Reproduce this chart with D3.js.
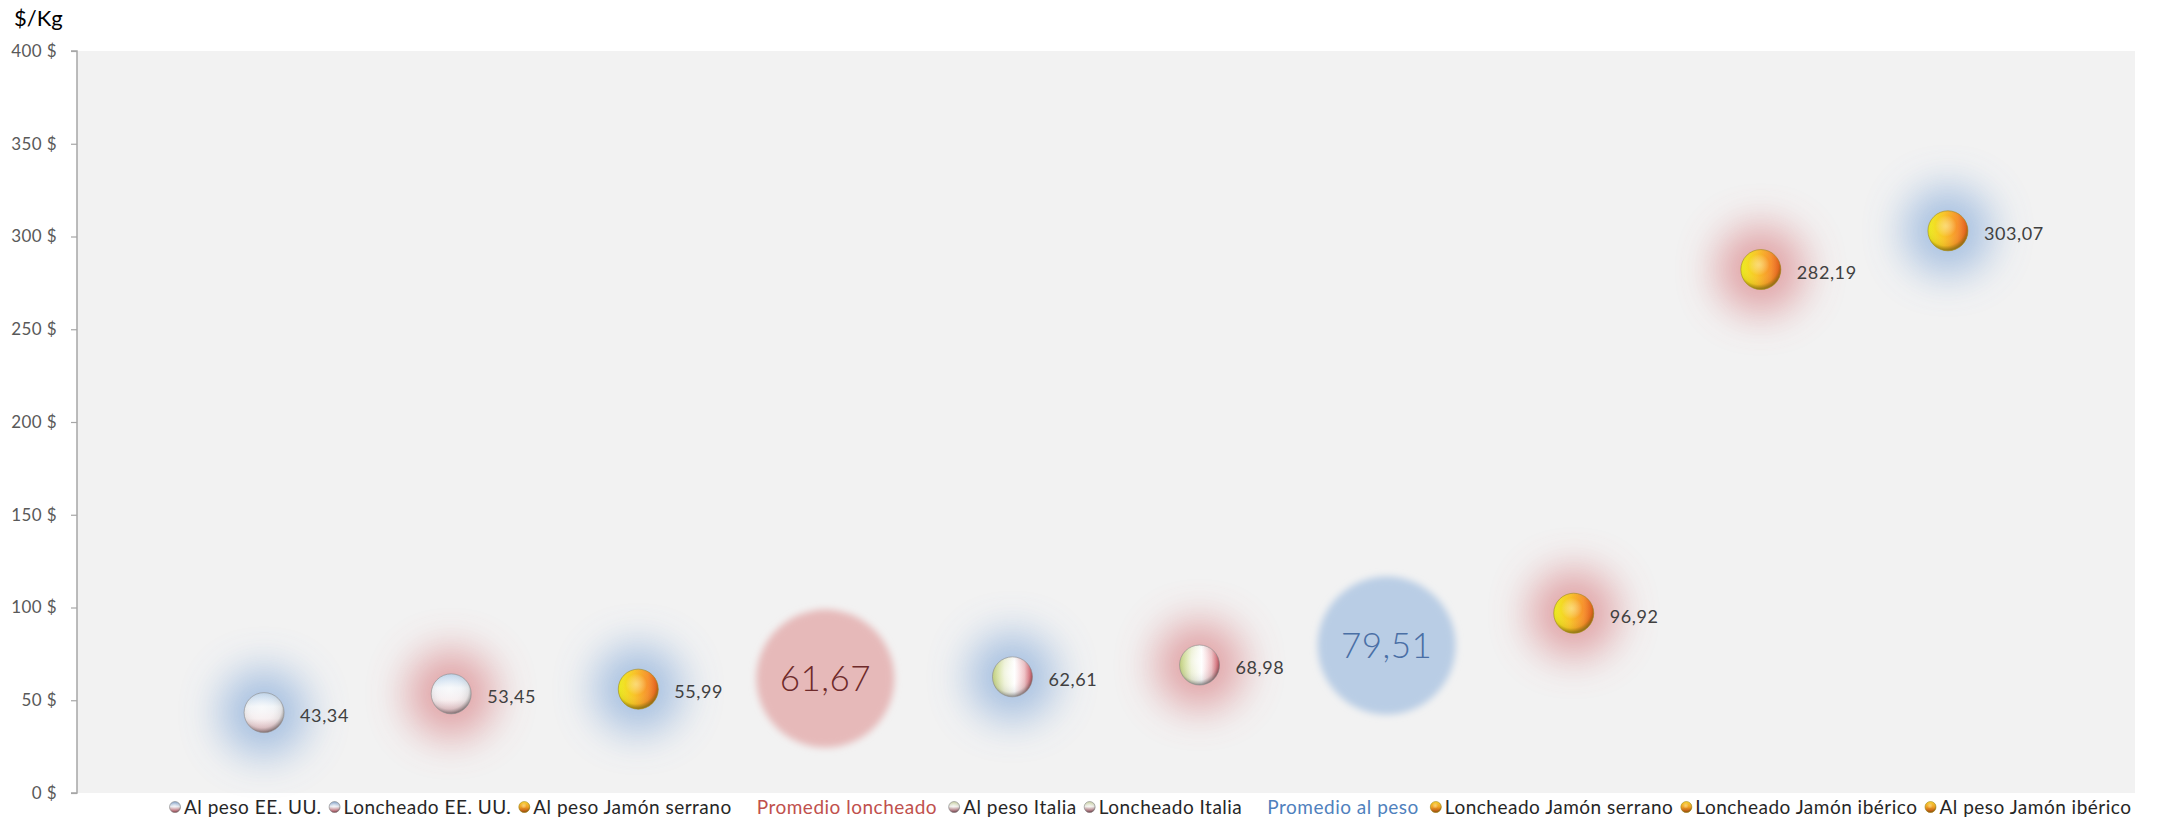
<!DOCTYPE html>
<html>
<head>
<meta charset="utf-8">
<script src="https://cdn.jsdelivr.net/npm/d3@7"></script>
<style>
  html, body { margin: 0; padding: 0; background: #ffffff; }
  svg { display: block; font-family: Lato, "Open Sans", sans-serif; }
</style>
</head>
<body>
<svg id="chart" width="2163" height="820"></svg>
<script>
// Price per kilo of ham, by origin and presentation
const seriesNames = [
  "Al peso EE. UU.", "Loncheado EE. UU.", "Al peso Jamón serrano", "Promedio loncheado",
  "Al peso Italia", "Loncheado Italia", "Promedio al peso", "Loncheado Jamón serrano",
  "Loncheado Jamón ibérico", "Al peso Jamón ibérico"
];
const seriesValues = [43.34, 53.45, 55.99, 61.67, 62.61, 68.98, 79.51, 96.92, 282.19, 303.07];
// origin of each series: us / es / it, or avg for the averages
const seriesOrigin = ["us", "us", "es", "avg", "it", "it", "avg", "es", "es", "es"];
// presentation: weight = "al peso", sliced = "loncheado"
const seriesFormat = ["weight", "sliced", "weight", "sliced", "weight", "sliced", "weight", "sliced", "sliced", "weight"];
const yTicks = [0, 50, 100, 150, 200, 250, 300, 350, 400];
const yTitle = "$/Kg";

const W = 2163, H = 820;
const margin = { left: 77, right: 28, top: 51, bottom: 27 };
const svg = d3.select("#chart");

const x = d3.scaleLinear().domain([0, seriesValues.length + 1]).range([margin.left, W - margin.right]);
const y = d3.scaleLinear().domain([0, 400]).range([H - margin.bottom, margin.top]);

const fmt = v => d3.format(".2f")(v).replace(".", ",");

const defs = svg.append("defs");

// glow / soft-edge filters
defs.append("filter").attr("id", "glow").attr("x", "-150%").attr("y", "-150%").attr("width", "400%").attr("height", "400%")
  .append("feGaussianBlur").attr("stdDeviation", 20);
defs.append("filter").attr("id", "soft").attr("x", "-30%").attr("y", "-30%").attr("width", "160%").attr("height", "160%")
  .append("feGaussianBlur").attr("stdDeviation", 3.5);

function linear(id, horizontal, stops) {
  const g = defs.append("linearGradient").attr("id", id)
    .attr("x1", 0).attr("y1", 0).attr("x2", horizontal ? 1 : 0).attr("y2", horizontal ? 0 : 1);
  stops.forEach(([o, c]) => g.append("stop").attr("offset", o).attr("stop-color", c));
}
linear("base-us", false, [["0%", "#c2d8ee"], ["35%", "#f2f5f8"], ["65%", "#f7eff0"], ["100%", "#e4b8bd"]]);
linear("base-it", true, [["0%", "#c7d77e"], ["30%", "#eef2d8"], ["55%", "#ffffff"], ["80%", "#f3c4c8"], ["100%", "#dd5866"]]);
linear("base-es", true, [["0%", "#eef01e"], ["40%", "#f8c428"], ["75%", "#f7902c"], ["100%", "#ea5a20"]]);
// small legend icons: darker, more saturated versions
linear("icon-us", false, [["0%", "#7f9fc8"], ["45%", "#e8ecf2"], ["60%", "#e0c4c8"], ["100%", "#b04050"]]);
linear("icon-it", false, [["0%", "#c8d0a0"], ["45%", "#f0f0ea"], ["60%", "#d8c0c0"], ["100%", "#904050"]]);
linear("icon-es", false, [["0%", "#f8d030"], ["50%", "#f0a020"], ["100%", "#b04010"]]);

// spherical shading on top of the base colours
const shade = defs.append("radialGradient").attr("id", "shade").attr("cx", "45%").attr("cy", "40%").attr("r", "60%");
[["0%", "#ffffff", 0.45], ["45%", "#ffffff", 0.05], ["80%", "#606060", 0.12], ["100%", "#303030", 0.55]]
  .forEach(([o, c, a]) => shade.append("stop").attr("offset", o).attr("stop-color", c).attr("stop-opacity", a));
const shadeEs = defs.append("radialGradient").attr("id", "shade-es").attr("cx", "45%").attr("cy", "38%").attr("r", "60%");
[["0%", "#fff6c0", 0.5], ["45%", "#ffffff", 0.0], ["82%", "#806000", 0.1], ["100%", "#7a6a10", 0.75]]
  .forEach(([o, c, a]) => shadeEs.append("stop").attr("offset", o).attr("stop-color", c).attr("stop-opacity", a));

const haloColor = { weight: "#9ab8de", sliced: "#de9599" };
const bigFill = { weight: "#b9cde5", sliced: "#e6b9b9" };
const bigText = { weight: "#4a6fa5", sliced: "#6e2a2a" };

// plot area
svg.append("rect")
  .attr("x", margin.left).attr("y", margin.top)
  .attr("width", W - margin.left - margin.right).attr("height", H - margin.top - margin.bottom)
  .attr("fill", "#f2f2f2");

// y axis
const yAxis = svg.append("g").attr("transform", `translate(${margin.left},0)`)
  .call(d3.axisLeft(y).tickValues(yTicks).tickSize(6).tickPadding(14).tickFormat(d => d + " $"));
yAxis.select(".domain").attr("stroke", "#a6a6a6").attr("stroke-width", 1.5).attr("d", `M-6,${y(400)}H0V${y(0)}H-6`);
yAxis.selectAll(".tick line").attr("stroke", "#a6a6a6").attr("stroke-width", 1.2);
yAxis.selectAll(".tick text").attr("fill", "#595959").style("font-size", "17px")
  .style("font-family", "Lato, sans-serif").style("letter-spacing", "0.4px");

svg.append("text").attr("x", 14).attr("y", 26).text(yTitle)
  .attr("fill", "#000").style("font-size", "22px");

const data = seriesNames.map((name, i) => ({
  name, value: seriesValues[i], origin: seriesOrigin[i], format: seriesFormat[i], i
}));

const marks = svg.append("g");

// halos behind the spheres
marks.selectAll("circle.halo").data(data.filter(d => d.origin !== "avg")).join("circle")
  .attr("class", "halo")
  .attr("cx", d => x(d.i + 1)).attr("cy", d => y(d.value)).attr("r", 44)
  .attr("fill", d => haloColor[d.format]).attr("opacity", 0.85)
  .attr("filter", "url(#glow)");

// average bubbles
const avg = data.filter(d => d.origin === "avg");
marks.selectAll("circle.avg").data(avg).join("circle")
  .attr("class", "avg")
  .attr("cx", d => x(d.i + 1)).attr("cy", d => y(d.value)).attr("r", 69)
  .attr("fill", d => bigFill[d.format]).attr("filter", "url(#soft)");
marks.selectAll("text.avg").data(avg).join("text")
  .attr("class", "avg")
  .attr("x", d => x(d.i + 1)).attr("y", d => y(d.value)).attr("dy", "0.36em")
  .attr("text-anchor", "middle").attr("fill", d => bigText[d.format])
  .style("font-size", "35px").style("font-weight", 300).style("letter-spacing", "0.5px")
  .text(d => fmt(d.value));

// spheres
const pts = data.filter(d => d.origin !== "avg");
function sphere(sel, r, prefix) {
  sel.append("circle").attr("r", r).attr("fill", d => `url(#${prefix}-${d.origin})`);
  sel.append("circle").attr("r", r).attr("fill", d => d.origin === "es" ? "url(#shade-es)" : "url(#shade)")
    .attr("stroke", d => d.origin === "es" ? "#a08a20" : "#8a8a8a").attr("stroke-opacity", 0.6).attr("stroke-width", 1);
}
const sph = marks.selectAll("g.pt").data(pts).join("g")
  .attr("class", "pt")
  .attr("transform", d => `translate(${x(d.i + 1)},${y(d.value)})`);
sphere(sph, 20, "base");

marks.selectAll("text.lbl").data(pts).join("text")
  .attr("class", "lbl")
  .attr("x", d => x(d.i + 1) + 36).attr("y", d => y(d.value) + 3).attr("dy", "0.35em")
  .attr("fill", "#404040").style("font-size", "18px").style("letter-spacing", "0.6px")
  .text(d => fmt(d.value));

// legend
const legend = svg.append("g").attr("transform", `translate(0, ${H - 13})`);
let cursor = 169;
data.forEach(d => {
  const item = legend.append("g").attr("transform", `translate(${cursor},0)`);
  let off = 0;
  if (d.origin !== "avg") {
    const ic = item.append("g").attr("transform", "translate(6,0)").datum(d);
    sphere(ic, 5.5, "icon");
    off = 15;
  } else {
    off = 18;
  }
  const t = item.append("text").attr("x", off).attr("dy", "0.35em")
    .attr("fill", d.origin === "avg" ? (d.format === "sliced" ? "#c0504d" : "#4f81bd") : "#262626")
    .style("font-size", "19px").style("letter-spacing", "0.5px").text(d.name);
  cursor += off + t.node().getComputedTextLength() + (d.origin === "avg" ? 11 : 7);
});
</script>
</body>
</html>
